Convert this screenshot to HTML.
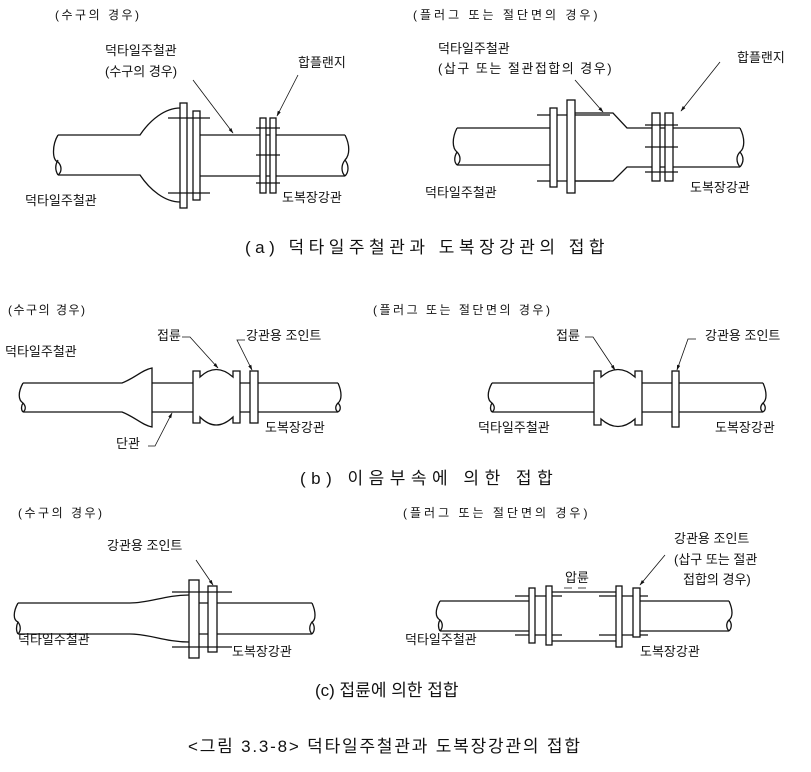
<!DOCTYPE html>
<html><head><meta charset="utf-8"><style>
html,body{margin:0;padding:0;background:#fff;}
svg{display:block;}
text{font-family:"Liberation Sans","Noto Sans CJK KR",sans-serif;fill:#111;}
.s{font-size:13px;}
.h{font-size:12px;letter-spacing:2.5px;}
.c{font-size:17px;}
</style></head><body>
<svg width="811" height="772" viewBox="0 0 811 772" xmlns="http://www.w3.org/2000/svg">
<defs>
<marker id="ar" viewBox="0 0 10 10" refX="9" refY="5" markerWidth="7" markerHeight="7" orient="auto"><path d="M0,2 L10,5 L0,8 z" fill="#111"/></marker>
</defs>
<g fill="none" stroke="#111" stroke-width="1.3">
<path d="M58,135 L140,135 C150,120 165,108 180,108"/>
<path d="M58,175 L140,175 C150,190 165,202 180,202"/>
<path d="M58,135 C52,145 52,160 58,162 C62,166 62,172 58,175"/>
<path d="M58,160 C55,165 55,170 58,175"/>
<path d="M200,135 L345,135 M200,176 L345,176"/>
<path d="M345,135 C350,145 350,155 345,160 C341,165 341,172 345,176 M345,160 C349,165 349,172 345,176"/>
<rect x="180" y="103" width="7" height="105" fill="#fff"/>
<rect x="193" y="111" width="7" height="89" fill="#fff"/>
<path d="M168,118 L210,118 M168,193 L210,193"/>
<rect x="260" y="118" width="6" height="75" fill="#fff"/>
<rect x="270" y="118" width="6" height="75" fill="#fff"/>
<path d="M256,128 L280,128 M256,155 L280,155 M256,183 L280,183"/>
<path d="M457,128 L550,128 M457,165 L550,165"/>
<path d="M457,128 C452,138 452,148 457,152 C461,156 461,162 457,165 M457,152 C454,157 454,162 457,165"/>
<path d="M575,113 L613,113 L627,128 L740,128"/>
<path d="M575,181 L613,181 L627,167 L740,167"/>
<path d="M740,128 C745,138 745,148 740,152 C736,156 736,162 740,167 M740,152 C744,157 744,162 740,167"/>
<path d="M537,115 L610,115 M537,181 L610,181"/>
<rect x="550" y="108" width="7" height="79" fill="#fff"/>
<rect x="567" y="100" width="8" height="93" fill="#fff"/>
<rect x="652" y="113" width="8" height="68" fill="#fff"/>
<rect x="665" y="113" width="8" height="68" fill="#fff"/>
<path d="M645,125 L678,125 M645,147 L678,147 M645,172 L678,172"/>
<path d="M23,383 L122,383 C135,378 142,370 152,368 L152,427 C142,425 135,417 122,412 L23,412"/>
<path d="M23,383 C18,392 18,400 23,403 C26,406 26,410 23,412 M23,403 C21,406 21,410 23,412"/>
<path d="M152,383 L193,383 M152,412 L193,412 M240,383 L250,383 M240,412 L250,412 M258,383 L338,383 M258,412 L338,412"/>
<path d="M338,383 C342,392 342,400 338,403 C335,406 335,410 338,412 M338,403 C341,406 341,410 338,412"/>
<path d="M193,371 L200,371 L200,377 Q216,362 233,377 L233,371 L240,371 L240,423 L233,423 L233,417 Q216,433 200,417 L200,423 L193,423 Z"/>
<rect x="250" y="371" width="8" height="52"/>
<path d="M492,383 L594,383 M492,412 L594,412 M642,383 L672,383 M642,412 L672,412 M679,383 L763,383 M679,412 L763,412"/>
<path d="M492,383 C487,392 487,400 492,403 C495,406 495,410 492,412 M492,403 C490,406 490,410 492,412"/>
<path d="M763,383 C767,392 767,400 763,403 C760,406 760,410 763,412 M763,403 C766,406 766,410 763,412"/>
<path d="M594,371 L601,371 L601,377 Q618,362 635,377 L635,371 L642,371 L642,425 L635,425 L635,419 Q618,434 601,419 L601,425 L594,425 Z"/>
<rect x="672" y="371" width="7" height="56"/>
<path d="M18,603 L130,603 C150,603 165,595 189,595"/>
<path d="M18,634 L130,634 C150,634 165,642 189,642"/>
<path d="M18,603 C13,612 13,620 18,622 C21,626 21,631 18,634 M18,622 C16,626 16,631 18,634"/>
<path d="M199,603 L208,603 M199,634 L208,634 M217,603 L312,603 M217,634 L312,634"/>
<path d="M312,603 C316,612 316,620 312,622 C309,626 309,631 312,634 M312,622 C315,626 315,631 312,634"/>
<rect x="189" y="580" width="10" height="78" fill="#fff"/>
<rect x="208" y="586" width="9" height="66" fill="#fff"/>
<path d="M172,592 L232,592 M172,647 L232,647"/>
<path d="M440,601 L529,601 M440,631 L529,631 M640,601 L729,601 M640,631 L729,631"/>
<path d="M440,601 C435,610 435,617 440,620 C443,623 443,628 440,631 M440,620 C438,623 438,628 440,631"/>
<path d="M729,601 C733,610 733,617 729,620 C726,623 726,628 729,631 M729,620 C732,623 732,628 729,631"/>
<path d="M552,592 L616,592 M552,641 L616,641"/>
<path d="M515,596 L562,596 M515,635 L562,635 M599,596 L648,596 M599,635 L648,635"/>
<rect x="529" y="588" width="6" height="55" fill="#fff"/>
<rect x="546" y="586" width="6" height="59" fill="#fff"/>
<rect x="616" y="586" width="6" height="61" fill="#fff"/>
<rect x="633" y="588" width="7" height="49" fill="#fff"/>
<path d="M564,588 L572,588 M578,588 L586,588" stroke-width="0.8"/>
</g>
<g fill="none" stroke="#111" stroke-width="0.8" marker-end="url(#ar)">
<path d="M193,80 L233,133"/>
<path d="M298,75 L277,116"/>
<path d="M575,80 L603,112"/>
<path d="M720,62 L681,111"/>
<path d="M182,337 L190,337 L218,368"/>
<path d="M245,340 L237,340 L252,370"/>
<path d="M148,446 L155,446 L172,413"/>
<path d="M585,337 L593,337 L615,370"/>
<path d="M696,339 L688,339 L677,370"/>
<path d="M196,560 L213,585"/>
<path d="M665,555 L640,585"/>
</g>
<text class="h" x="55" y="19">(수구의 경우)</text>
<text class="s" x="105" y="55">덕타일주철관</text>
<text class="s" x="105" y="76">(수구의 경우)</text>
<text class="s" x="298" y="67">합플랜지</text>
<text class="s" x="25" y="205">덕타일주철관</text>
<text class="s" x="282" y="202">도복장강관</text>
<text class="h" x="413" y="19" style="letter-spacing:3px">(플러그 또는 절단면의 경우)</text>
<text class="s" x="438" y="53">덕타일주철관</text>
<text class="s" x="438" y="73" style="letter-spacing:1.5px">(삽구 또는 절관접합의 경우)</text>
<text class="s" x="737" y="62">합플랜지</text>
<text class="s" x="425" y="197">덕타일주철관</text>
<text class="s" x="690" y="192">도복장강관</text>
<text class="c" x="245" y="253" style="letter-spacing:4.5px">(a) 덕타일주철관과 도복장강관의 접합</text>
<text class="h" x="8" y="314" style="letter-spacing:1.5px">(수구의 경우)</text>
<text class="h" x="373" y="314">(플러그 또는 절단면의 경우)</text>
<text class="s" x="157" y="340">접륜</text>
<text class="s" x="246" y="340">강관용 조인트</text>
<text class="s" x="5" y="356">덕타일주철관</text>
<text class="s" x="265" y="432">도복장강관</text>
<text class="s" x="116" y="448">단관</text>
<text class="s" x="556" y="340">접륜</text>
<text class="s" x="705" y="340">강관용 조인트</text>
<text class="s" x="478" y="432">덕타일주철관</text>
<text class="s" x="715" y="432">도복장강관</text>
<text class="c" x="300" y="484" style="letter-spacing:5.5px">(b) 이음부속에 의한 접합</text>
<text class="h" x="18" y="517">(수구의 경우)</text>
<text class="h" x="403" y="517" style="letter-spacing:3px">(플러그 또는 절단면의 경우)</text>
<text class="s" x="107" y="550">강관용 조인트</text>
<text class="s" x="18" y="644">덕타일주철관</text>
<text class="s" x="232" y="656">도복장강관</text>
<text class="s" x="674" y="543">강관용 조인트</text>
<text class="s" x="674" y="564">(삽구 또는 절관</text>
<text class="s" x="683" y="584">접합의 경우)</text>
<text class="s" x="565" y="582">압륜</text>
<text class="s" x="405" y="644">덕타일주철관</text>
<text class="s" x="640" y="656">도복장강관</text>
<text class="c" x="315" y="696">(c) 접륜에 의한 접합</text>
<text class="c" x="188" y="752" style="letter-spacing:1.8px">&lt;그림 3.3-8&gt;  덕타일주철관과 도복장강관의 접합</text>
</svg>
</body></html>
